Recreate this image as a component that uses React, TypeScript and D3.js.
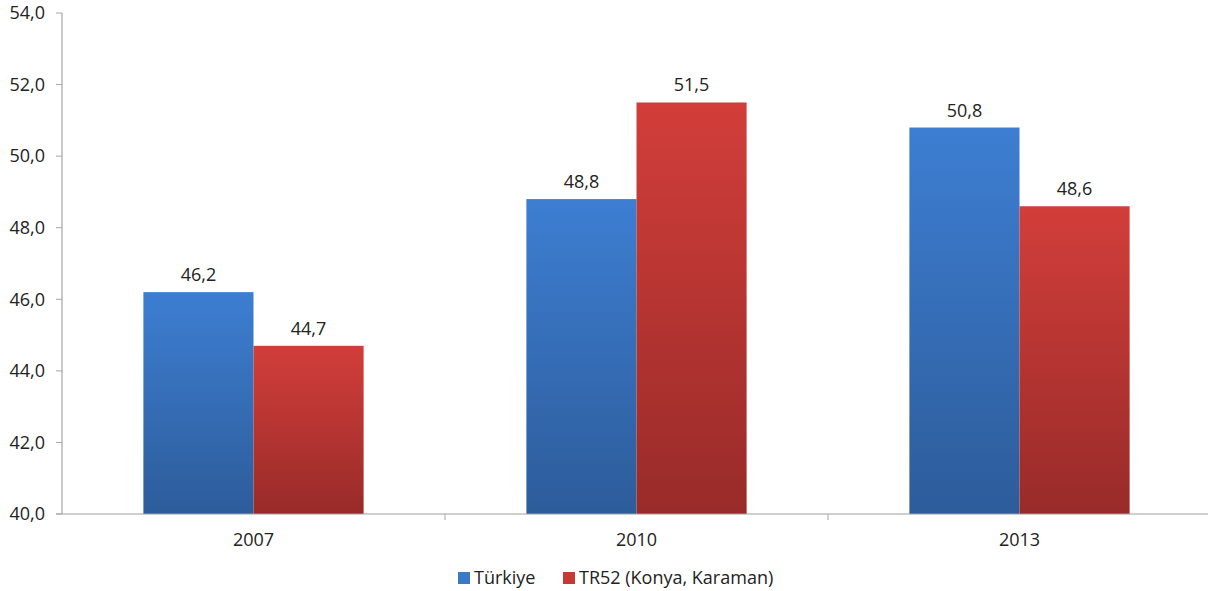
import React from "react";
import * as d3 from "d3";

const categories = ["2007", "2010", "2013"];
const turkiye = [46.2, 48.8, 50.8];
const tr52 = [44.7, 51.5, 48.6];
const seriesNames = ["Türkiye", "TR52 (Konya, Karaman)"];
const yTicks = [40, 42, 44, 46, 48, 50, 52, 54];

const W = 1208;
const H = 591;
const left = 62;
const right = 1211;
const top = 13;
const bottom = 514;
const font = "'Open Sans', 'DejaVu Sans', sans-serif";

export default function App() {
  const x = d3.scaleBand<string>().domain(categories).range([left, right]).paddingInner(0).paddingOuter(0);
  const y = d3.scaleLinear().domain([40, 54]).range([bottom, top]);
  const bw = x.bandwidth();
  const barW = bw * 0.2875;
  const fmt = (v: number) => v.toFixed(1).replace(".", ",");
  const series = [
    { name: seriesNames[0], values: turkiye, grad: "gBlue", solid: "#3a78c8" },
    { name: seriesNames[1], values: tr52, grad: "gRed", solid: "#c83834" },
  ];
  return (
    <svg width={W} height={H} style={{ position: "absolute", left: 0, top: 0, background: "#fff" }}>
      <defs>
        <linearGradient id="gBlue" x1="0" y1="0" x2="0" y2="1">
          <stop offset="0" stopColor="#3d7ed2" />
          <stop offset="1" stopColor="#2d5c9a" />
        </linearGradient>
        <linearGradient id="gRed" x1="0" y1="0" x2="0" y2="1">
          <stop offset="0" stopColor="#d23e3a" />
          <stop offset="1" stopColor="#982b29" />
        </linearGradient>
      </defs>
      {categories.map((c, i) =>
        series.map((s, k) => {
          const bx = (x(c) as number) + bw / 2 - barW + k * barW;
          const by = y(s.values[i]);
          return (
            <g key={c + k}>
              <rect x={bx} y={by} width={barW} height={bottom - by} fill={`url(#${s.grad})`} />
              <text x={bx + barW / 2} y={by - 11} textAnchor="middle" fontFamily={font} fontSize={18} fill="#222">
                {fmt(s.values[i])}
              </text>
            </g>
          );
        })
      )}
      <line x1={left} x2={left} y1={top} y2={bottom} stroke="#a6a6a6" strokeWidth={1.2} />
      <line x1={left - 6} x2={W} y1={bottom} y2={bottom} stroke="#a0a0a0" strokeWidth={1.2} />
      {yTicks.map((t) => (
        <g key={t}>
          <line x1={left - 6} x2={left} y1={y(t)} y2={y(t)} stroke="#a6a6a6" />
          <text x={left - 17} y={y(t)} dy="0.35em" textAnchor="end" fontFamily={font} fontSize={18} fill="#222">
            {fmt(t)}
          </text>
        </g>
      ))}
      {categories.map((c, i) => (
        <g key={c}>
          {i > 0 && <line x1={x(c)} x2={x(c)} y1={bottom} y2={bottom + 6} stroke="#a6a6a6" />}
          <text x={(x(c) as number) + bw / 2} y={bottom + 32} textAnchor="middle" fontFamily={font} fontSize={18} fill="#222">
            {c}
          </text>
        </g>
      ))}
      <g>
        <rect x={458} y={572} width={12} height={12} fill="#3a78c8" />
        <text x={474} y={578} dy="0.35em" fontFamily={font} fontSize={18} fill="#222">{seriesNames[0]}</text>
        <rect x={563} y={572} width={12} height={12} fill="#c83834" />
        <text x={579} y={578} dy="0.35em" fontFamily={font} fontSize={18} fill="#222">{seriesNames[1]}</text>
      </g>
    </svg>
  );
}
